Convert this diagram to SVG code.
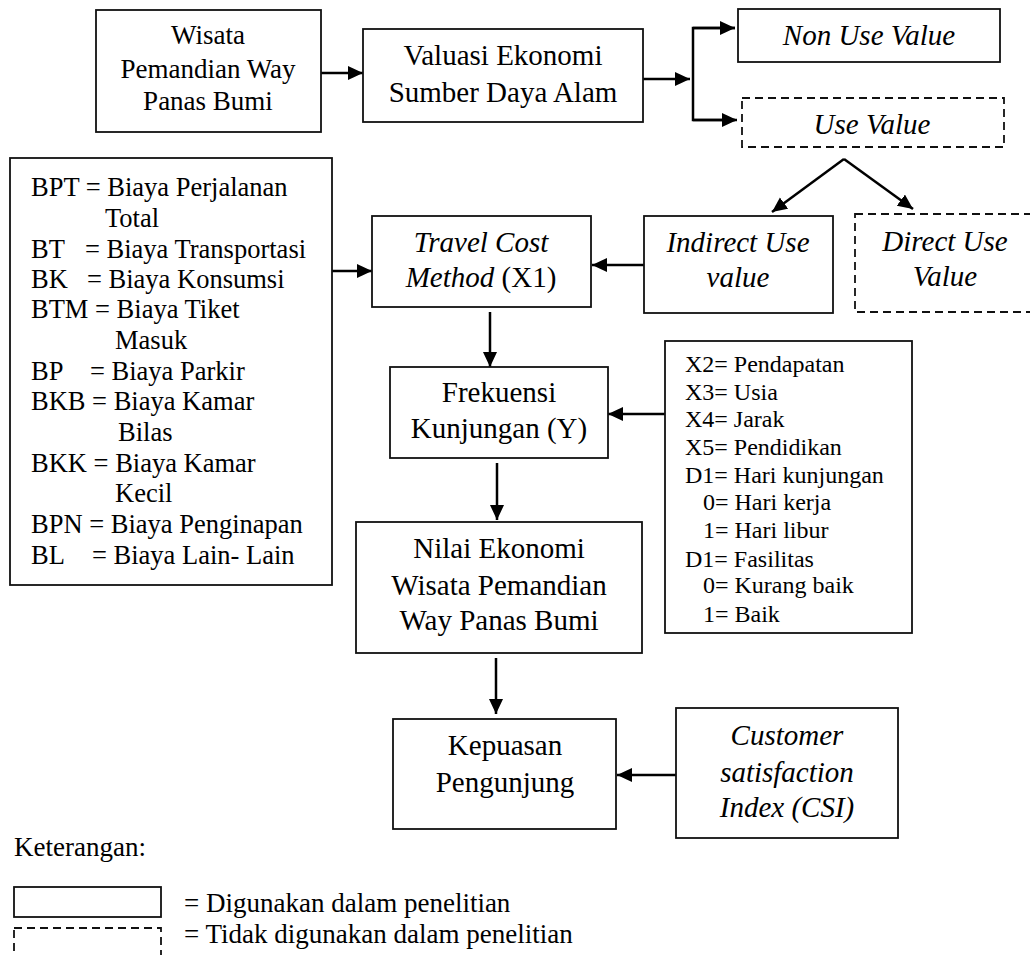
<svg xmlns="http://www.w3.org/2000/svg" width="1030" height="955" viewBox="0 0 1030 955">
<defs>
<marker id="ah" markerUnits="userSpaceOnUse" markerWidth="16" markerHeight="15" refX="15" refY="7" orient="auto">
<path d="M0,0 L15,7 L0,14 z" fill="#000"/>
</marker>
<style>
.box{fill:#fff;stroke:#111;stroke-width:1.8}
.dash{fill:#fff;stroke:#111;stroke-width:1.8;stroke-dasharray:8 5}
text{font-family:'Liberation Serif','DejaVu Serif',serif;fill:#000}
.t{font-size:29px;text-anchor:middle}
.i{font-style:italic}
.l{font-size:26.5px}
.r{font-size:24px}
.k{font-size:27px}
.c{fill:none;stroke:#000;stroke-width:2.5}
</style>
</defs>
<rect width="1030" height="955" fill="#fff"/>

<g id="connectors">
<line class="c" x1="321" y1="73" x2="363" y2="73" marker-end="url(#ah)"/>
<line class="c" x1="643" y1="79" x2="690" y2="79" marker-end="url(#ah)"/>
<polyline class="c" points="735,28 693,28 693,120 735,120"/>
<line class="c" x1="693" y1="28" x2="735" y2="28" marker-end="url(#ah)"/>
<line class="c" x1="693" y1="120" x2="737" y2="120" marker-end="url(#ah)"/>
<line class="c" x1="844" y1="159" x2="772" y2="212" marker-end="url(#ah)"/>
<line class="c" x1="844" y1="159" x2="913" y2="209" marker-end="url(#ah)"/>
<line class="c" x1="644" y1="265" x2="592" y2="265" marker-end="url(#ah)"/>
<line class="c" x1="332" y1="271" x2="372" y2="271" marker-end="url(#ah)"/>
<line class="c" x1="490" y1="312" x2="490" y2="367" marker-end="url(#ah)"/>
<line class="c" x1="665" y1="414" x2="608" y2="414" marker-end="url(#ah)"/>
<line class="c" x1="497" y1="463" x2="497" y2="520" marker-end="url(#ah)"/>
<line class="c" x1="496" y1="658" x2="496" y2="714" marker-end="url(#ah)"/>
<line class="c" x1="676" y1="775" x2="617" y2="775" marker-end="url(#ah)"/>
</g>

<g id="wisata">
<rect class="box" x="96" y="10" width="225" height="122"/>
<text class="t" style="font-size:27px" x="208" y="44">Wisata</text>
<text class="t" style="font-size:27px" x="208" y="78">Pemandian Way</text>
<text class="t" style="font-size:27px" x="208" y="110">Panas Bumi</text>
</g>

<g id="valuasi">
<rect class="box" x="363" y="29" width="280" height="93"/>
<text class="t" x="503" y="65">Valuasi Ekonomi</text>
<text class="t" x="503" y="102">Sumber Daya Alam</text>
</g>

<g id="nonuse">
<rect class="box" x="738" y="9" width="262" height="53"/>
<text class="t i" x="869" y="45">Non Use Value</text>
</g>

<g id="usevalue">
<rect class="dash" x="742" y="98" width="262" height="49"/>
<text class="t i" x="872" y="134">Use Value</text>
</g>

<g id="indirect">
<rect class="box" x="644" y="216" width="189" height="97"/>
<text class="t i" x="738" y="252">Indirect Use</text>
<text class="t i" x="738" y="287">value</text>
</g>

<g id="direct">
<rect class="dash" x="855" y="214" width="190" height="98"/>
<text class="t i" x="945" y="251">Direct Use</text>
<text class="t i" x="945" y="286">Value</text>
</g>

<g id="travel">
<rect class="box" x="372" y="216" width="219" height="91"/>
<text class="t i" x="481" y="252">Travel Cost</text>
<text class="t" x="481" y="287"><tspan font-style="italic">Method</tspan> (X1)</text>
</g>

<g id="biaya">
<rect class="box" x="10" y="158" width="322" height="427"/>
<text class="l" x="31" y="196">BPT = Biaya Perjalanan</text>
<text class="l" x="105" y="227">Total</text>
<text class="l" y="258"><tspan x="31">BT</tspan><tspan x="85">= Biaya Transportasi</tspan></text>
<text class="l" y="288"><tspan x="31">BK</tspan><tspan x="87">= Biaya Konsumsi</tspan></text>
<text class="l" x="31" y="318">BTM = Biaya Tiket</text>
<text class="l" x="115" y="349">Masuk</text>
<text class="l" y="380"><tspan x="31">BP</tspan><tspan x="90">= Biaya Parkir</tspan></text>
<text class="l" x="31" y="410">BKB = Biaya Kamar</text>
<text class="l" x="118" y="441">Bilas</text>
<text class="l" x="31" y="472">BKK = Biaya Kamar</text>
<text class="l" x="115" y="502">Kecil</text>
<text class="l" x="31" y="533">BPN = Biaya Penginapan</text>
<text class="l" y="564"><tspan x="31">BL</tspan><tspan x="92">= Biaya Lain- Lain</tspan></text>
</g>

<g id="frekuensi">
<rect class="box" x="390" y="367" width="218" height="91"/>
<text class="t" x="499" y="402">Frekuensi</text>
<text class="t" x="499" y="438">Kunjungan (Y)</text>
</g>

<g id="variabel">
<rect class="box" x="665" y="341" width="247" height="292"/>
<text class="r" x="685" y="372">X2= Pendapatan</text>
<text class="r" x="685" y="400">X3= Usia</text>
<text class="r" x="685" y="427">X4= Jarak</text>
<text class="r" x="685" y="455">X5= Pendidikan</text>
<text class="r" x="685" y="483">D1= Hari kunjungan</text>
<text class="r" x="703" y="510">0= Hari kerja</text>
<text class="r" x="703" y="538">1= Hari libur</text>
<text class="r" x="685" y="567">D1= Fasilitas</text>
<text class="r" x="703" y="593">0= Kurang baik</text>
<text class="r" x="703" y="622">1= Baik</text>
</g>

<g id="nilai">
<rect class="box" x="356" y="522" width="286" height="131"/>
<text class="t" x="499" y="558">Nilai Ekonomi</text>
<text class="t" x="499" y="595">Wisata Pemandian</text>
<text class="t" x="499" y="630">Way Panas Bumi</text>
</g>

<g id="kepuasan">
<rect class="box" x="393" y="719" width="223" height="110"/>
<text class="t" x="505" y="755">Kepuasan</text>
<text class="t" x="505" y="792">Pengunjung</text>
</g>

<g id="csi">
<rect class="box" x="676" y="708" width="222" height="130"/>
<text class="t i" x="787" y="745">Customer</text>
<text class="t i" x="787" y="782">satisfaction</text>
<text class="t i" x="787" y="817">Index (CSI)</text>
</g>

<g id="legend">
<text class="k" x="14" y="856">Keterangan:</text>
<rect class="box" x="14" y="887" width="147" height="30"/>
<text class="k" x="184" y="912">= Digunakan dalam penelitian</text>
<rect class="dash" x="14" y="928" width="147" height="40"/>
<text class="k" x="184" y="943">= Tidak digunakan dalam penelitian</text>
</g>
</svg>
